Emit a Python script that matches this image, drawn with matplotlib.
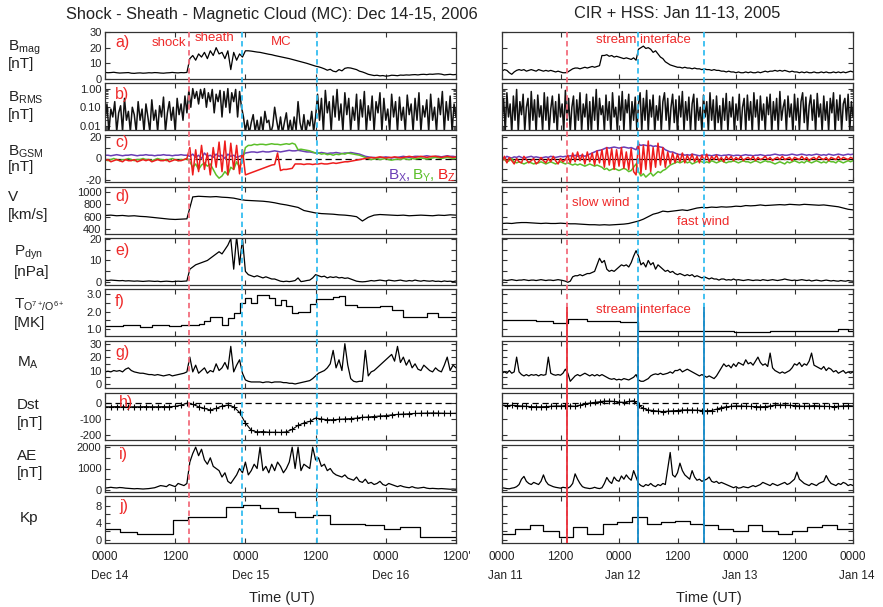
import numpy as np
import matplotlib
matplotlib.use('Agg')
import matplotlib.pyplot as plt
from matplotlib.ticker import LogLocator, NullFormatter

plt.rcParams['font.family'] = ['Liberation Sans', 'DejaVu Sans']
plt.rcParams['mathtext.fontset'] = 'custom'
plt.rcParams['mathtext.rm'] = 'Liberation Sans'
plt.rcParams['mathtext.it'] = 'Liberation Sans:italic'
plt.rcParams['mathtext.bf'] = 'Liberation Sans:bold'

# ---------------- data: left = Dec 14-16 2006 (hours from Dec 14 0000), right = Jan 11-13 2005 ----------------
# 30 min samples
bmag_L = [4.2,4.0,4.1,4.3,4.0,3.8,3.9,4.0,4.1,3.7,3.6,3.8,3.9,3.7,3.8,4.0,3.9,4.1,4.0,3.8,3.7,3.9,4.0,4.2,4.0,3.9,4.1,4.0,4.2,
          13,15,12,16,14,17,13,18,15,20,16,17,13,18,6,17,12,16,14,
          18,18,17.8,17.5,17.2,17,16.6,16.2,15.8,15.5,15,14.6,14.2,13.8,13.4,13,12.5,12,11.5,11,10.5,10,9.4,8.8,8.2,
          7.8,7.2,6.5,5.6,6.2,5.0,4.6,6.0,5.2,6.8,7.2,7.0,6.5,6.0,5.0,4.5,3.8,3.0,2.6,2.2,2.4,2.0,2.2,1.8,2.0,
          2.4,2.3,2.1,2.5,2.4,2.6,2.5,2.7,2.8,2.6,2.9,3.0,2.8,3.1,3.0,3.2,3.3,3.1,2.6,2.8,3.0,2.7,2.9]
bmag_R = [5,6,5.5,4,3,4.5,5.5,6,5.5,6,5,5.5,6,5.5,5,6,5.5,5,5.5,5,5.5,5,4.5,5,4.5,4,4,
          4.5,5.5,6.5,7,7,6.5,7,7.5,7,7.5,8,7.5,8,8.5,15,
          15,15.5,14.5,15,14,14.5,14,13.5,13,13.5,13,12.5,13.5,12,
          19,20,21,19.5,20,19,17,18,16,14,13,11,10,9,8.5,8,
          7.5,7.5,7,7.5,7,7,6.5,7,6.5,6.5,6,6.5,6,6,5.5,6,5.5,5.5,5,5,4.5,5,4.5,4.5,4,4.5,4,4,4.5,4,
          4.5,4,4,4.5,4,4.5,5,4.5,5,5,5.5,5,5.5,5,5.5,5,4.5,5,4.5,4.5,4,4.5,4,4.5,4,4,4.5,4,4,4.5,
          4,4.5,4,4,4.5,4,4.5,4,4.5,4,4.5,5,4.5]

# 20 min samples
brms_L = [0.02,0.15,0.005,0.08,0.03,0.2,0.005,0.05,0.12,0.005,0.3,0.02,0.06,0.005,0.1,0.04,0.005,0.2,0.02,0.08,
          0.005,0.15,0.03,0.005,0.25,0.02,0.07,0.005,0.12,0.03,0.35,0.005,0.05,0.2,0.02,0.1,0.005,0.3,0.04,0.15,
          0.02,0.4,0.05,
          0.8,0.1,1.0,0.3,0.7,0.15,0.9,0.3,1.0,0.1,0.6,0.2,0.9,0.05,0.5,0.2,0.8,0.03,0.7,0.1,1.0,0.05,0.6,0.2,0.9,0.03,0.7,0.1,
          0.03,0.005,0.02,0.004,0.015,0.04,0.005,0.02,0.004,0.03,0.005,0.06,0.015,0.02,0.004,0.01,0.1,0.02,0.005,0.03,
          0.004,0.015,0.05,0.005,0.02,0.004,0.03,0.006,0.2,0.015,0.005,0.04,0.004,0.02,0.01,0.06,0.005,0.03,
          0.5,0.02,0.3,0.005,0.8,0.05,0.2,0.005,0.4,0.03,0.9,0.02,0.15,0.005,0.6,0.04,0.3,0.005,0.1,0.02,
          0.5,0.005,0.25,0.03,0.7,0.005,0.12,0.02,0.4,0.005,0.2,0.05,0.6,0.005,0.3,0.02,0.08,0.005,0.5,0.03,
          0.2,0.005,0.35,0.02,0.1,0.005,0.45,0.04,0.15,0.005,0.3,0.02,0.6,0.005,0.12,0.03,0.25,0.005,0.5,0.02,
          0.1,0.005,0.3,0.04,0.7,0.005,0.2,0.02,0.4,0.005,0.15,0.03]
brms_R = [0.02,0.3,0.005,0.6,0.03,0.15,0.004,0.4,0.02,0.9, 0.005,0.2,0.04,0.5,0.005,0.1,0.3,0.005,0.7,0.02,
          0.25,0.004,0.45,0.03,0.12,0.005,0.6,0.02,0.35,0.005, 0.08,0.4,0.015,0.2,0.004,0.5,0.03,0.15,0.005,0.8,
          0.02,0.3,0.005,0.1,0.4,0.004,0.25,0.02,0.6,0.005, 0.15,0.03,0.5,0.005,0.2,0.004,0.35,0.02,0.9,0.005,
          0.3,0.04,0.12,0.005,0.45,0.02,0.2,0.004,0.6,0.03, 0.1,0.005,0.4,0.02,0.7,0.005,0.25,0.05,0.5,0.004,
          0.2,0.02,0.35,0.005,0.15,0.6,0.005,0.3,0.02,0.8, 0.005,0.25,0.03,0.45,0.004,0.12,0.02,0.4,0.005,0.2,
          0.6,0.02,0.3,0.005,0.1,0.5,0.015,0.25,0.004,0.4, 0.03,0.7,0.005,0.2,0.02,0.35,0.005,0.15,0.5,0.004,
          0.3,0.02,0.1,0.005,0.45,0.03,0.2,0.005,0.6,0.02, 0.25,0.004,0.4,0.015,0.12,0.005,0.3,0.02,0.55,0.005,
          0.2,0.03,0.35,0.004,0.15,0.02,0.5,0.005,0.1,0.3, 0.005,0.45,0.02,0.2,0.004,0.6,0.03,0.25,0.005,0.4,
          0.02,0.15,0.005,0.35,0.04,0.5,0.004,0.2,0.02,0.3, 0.005,0.7,0.02,0.1,0.25,0.005,0.4,0.03,0.15,0.004,
          0.5,0.02,0.3,0.005,0.2,0.6,0.015,0.35,0.005,0.12, 0.45,0.02,0.25,0.004,0.55,0.03,0.15,0.005,0.4,0.02,
          0.2,0.005,0.3,0.05,0.6,0.004,0.25,0.02,0.45,0.005, 0.15,0.3,0.02,0.5,0.005,0.2,0.03]

# B GSM components, 30 min
bx_L = [3,3,2.5,3,3.5,3,2.5,3,3,3.5,3,2.5,3,3,3.5,3,3,2.5,3,3,3.5,3,3,2.5,3,3,3.5,3,3,
        2,4,1,3,0,5,2,3,1,4,2,3,0,4,2,3,1,2,3,
        5,5.5,6,6,5.5,6,6.5,6,6,6.5,7,6.5,6,6.5,7,7.5,7,7,7.5,7,6.5,6,6,5.5,5,
        5,5.5,5,4.5,5,5,5.5,5,4.5,5,5,5.5,5,4.5,4,3,2,1.5,1,1,0.5,1,1,1.5,1,0.5,1,1,1.5,2,
        1.5,1,1.5,2,2,1.5,2,2.5,2,1.5,2,2,1.5,2,2.5,2,2,1.5]
by_L = [-1,-2,-1,0,-1,-2,-1,-1,0,-1,-2,-1,-1,0,-1,-1,-2,-1,0,-1,-1,-2,-1,0,-1,-2,-1,-1,0,
        -3,-8,-5,-10,-6,-4,-7,-5,-10,-15,-18,-16,-12,-15,-8,-10,-3,-8,-2,
        10,12,12,13,12.5,13,13,12.5,13,13.5,13,13,12.5,13,13.5,13,14,13,8,8.5,8,7.5,7,6,5,
        5,4,4.5,3.5,4,3,4,3.5,4.5,4,5,4.5,4,3.5,3,2,1,0,-1,-0.5,0,-1,-0.5,0,-1,-1.5,-1,-0.5,-1,0,
        -0.5,-1,0,-0.5,0,0.5,0,-0.5,0,0.5,1,0.5,0,0.5,1,0.5,0,0.5]
bz_L = [-2,-1,-3,-2,-1,-2,-3,-1,-2,-2,-1,-3,-2,-1,-2,-1,-3,-2,-1,-2,-2,-1,-3,-2,-1,-2,-2,-1,0,
        10,-15,8,-12,12,-10,5,-15,10,-8,15,-12,16,-15,14,-10,12,-14,8,
        -15,-14,-13,-12,-11,-10,-9,-8,-7,-6,-5.5,5,-11,-10,-10,-9.5,-9,-5,-5,-5,-5.5,-5,-5,-5.5,-5,
        -5,-4.5,-5,-5,-4.5,-4,-4.5,-4,-3.5,-3,-3,-2.5,-2,-1.5,-1,-0.5,0,0.5,1,0.5,1,1.5,1,0.5,1,1,1.5,1,0.5,1,
        1.5,2,1.5,1,1.5,2,1.5,1,1.5,2,2,1.5,1,1.5,2,1.5,1,1.5]
bx_R = [1,0,2,1,0.5,1.5,1,2,1,0.5,1,1.5,2,1,1.5,1,0.5,1,1.5,1,2,1.5,1,1.5,2,1.5,2,
        2,2.5,2,3,2,2.5,3,2,3,4,5,6,7,7.5,8,
        9,10,9.5,10,10.5,10,9.5,10,10.5,10,9.5,10,9,8,
        13,12,12.5,12,11.5,12,11,11.5,11,10.5,10,8,7,6,6,5,
        4,3.5,4,3,3.5,3,4,3.5,3,2.5,3,3.5,3,3,2.5,3,3.5,3,2.5,3,3,3.5,3,2.5,3,3,2.5,3,3.5,3,
        3,2.5,3,3,3.5,3,2.5,3,3,3.5,4,3.5,3,3.5,3,3,3.5,4,3.5,3,3.5,4,3.5,3,3.5,3,3.5,4,3.5,3,
        3.5,3,4,3.5,3,3.5,4,3.5,3,3.5,4,3.5,4]
by_R = [1,-1,-3,-2,0,-3,-4,-3,-4,-5,-4,-3,-4,-5,-4,-4,-3,-4,-5,-4,-3,-4,-5,-4,-3,-4,-5,
        -4,-5,-6,-5,-6,-5,-6,-7,-6,-5,-6,-7,-6,-7,-8,
        -10,-9,-11,-10,-9,-10,-11,-10,-9,-10,-12,-11,-8,-5,
        -12,-16,-14,-17,-15,-13,-16,-14,-12,-13,-11,-10,-8,-6,-5,-4,
        -3,-4,-3,-2,-4,-3,-5,-4,-3,-2,-3,-4,-3,-4,-2,-3,-4,-3,-2,-3,-4,-3,-3,-2,-3,-4,-3,-2,-3,-3,
        -4,-3,-2,-3,-4,-3,-2,-3,-3,-4,-5,-4,-3,-4,-5,-3,-4,-3,-2,-3,-4,-3,-4,-2,-3,-4,-3,-2,-3,-4,
        -3,-4,-2,-3,-3,-4,-2,-3,-4,-3,-2,-3,-2]
bz_R = [-3,2,-4,1,-2,-5,0,-3,-4,2,-1,-4,-2,0,-5,-3,1,-2,-4,0,-3,2,-2,-5,0,-3,-1,
        3,-4,5,-3,6,-2,4,-5,6,-3,5,-6,7,-4,8,
        -8,10,-6,9,-10,8,-7,10,-9,6,-10,9,-12,-15,
        15,-14,12,-10,16,-12,10,-8,14,-6,10,-8,6,-5,5,-4,
        4,-3,5,-4,3,-2,4,-3,2,-4,3,-2,4,-3,2,-1,3,-2,1,-3,2,-1,2,-2,1,-1,2,-2,0,1,
        -1,2,-2,1,-1,0,2,-1,1,-2,0,1,-1,2,-1,0,1,-2,1,0,-1,2,-1,1,-2,0,1,-1,2,0,
        -1,1,-2,1,0,-1,2,-1,1,0,-1,1,0]

# solar wind speed, hourly
v_L = [620,625,615,620,610,615,605,600,590,580,570,560,555,560,565,
       920,930,925,920,925,915,910,900,880,
       865,860,855,850,840,825,805,790,770,750,
       700,680,660,650,645,640,630,625,615,600,
       530,590,625,635,630,625,620,625,615,620,625,620,615,625,620,630,625]
v_R = [490,495,490,500,505,505,500,495,490,495,490,490,495,490,485,485,480,475,470,470,
       465,470,465,470,475,480,490,510,530,560,600,640,660,690,680,690,700,710,700,720,
       740,750,745,755,750,760,755,760,770,765,780,775,780,790,780,785,790,795,790,800,
       795,790,800,795,790,785,790,780,770,760,740,720,710]

# dynamic pressure, 30 min
pdyn_L = [1,0.8,1,0.9,0.8,0.7,0.8,0.6,0.7,0.6,0.5,0.6,0.5,0.4,0.5,0.6,0.5,0.4,0.5,0.3,0.4,0.5,0.4,0.3,0.4,0.5,0.4,0.5,0.6,
          6,7,8,8.5,9,9.5,10,11,12,13,14,13,15,17,20,6,21,8,20,
          5,3.5,3,2.5,3,2.5,2,2.5,2,1.5,1.5,1,0.5,0.3,0.5,0.3,0.5,0.8,2,0.3,0.5,0.8,1,2,3.5,
          3,2.5,2.8,2,2.5,2.2,2.5,2,2.2,1.8,2,1.5,1,0.5,0.3,0.2,0.3,0.5,0.8,0.6,0.8,1,0.8,0.6,1,
          0.8,0.6,0.8,1,0.7,0.5,0.8,0.6,1,0.7,0.5,0.8,0.6,0.5,0.7,0.4,0.5,0.3,0.6,0.4,0.5,0.3,0.6]
pdyn_R = [1,1,0.8,1,1.2,1,0.8,1,1,1.2,1,0.8,1,1,0.8,1,1.2,1,0.8,1,1,0.8,1,1.2,1,0.8,0.5,
          0,0.5,2.5,3,3,3.5,3,3.5,4,4,4.5,5,8,11,9,
          10,6,5,5.5,5,6,7,8,7.5,8,7,9,12,14.5,
          12,8,9,7,10,8,9,6,8,7,6,5,5.5,4.5,5,4,
          3.5,4,3.5,3,3.5,3,3.5,2.5,3,2.5,2,2.5,2,1.5,2,1.5,1.5,1,1.5,1.5,
          1,1.2,1,1.5,1,1.2,1,0.8,1,1.2,1,0.8,1,1,0.8,1.2,1,0.8,1,1.2,
          1,0.8,1,1.2,1.5,1.2,1,0.8,1,0.8,1,1.2,1,0.8,1,0.6,0.8,1,0.8,0.6,
          0.8,1,0.8,0.6,0.8,0.6,0.5,0.8,0.6,0.5,0.8,0.6,0.5]

# O7+/O6+ freeze-in temperature (steps)
tox_L_t = list(range(61))
tox_L = [1.15,1.15,1.2,1.25,1.25,1.25,1.12,1.12,1.25,1.25,1.25,1.19,1.19,1.25,1.25,1.25,1.3,1.44,1.72,1.72,
         1.25,1.62,1.9,2.49,2.77,2.49,2.94,2.94,2.8,2.38,2.67,2.33,1.94,2.0,2.0,2.42,2.71,2.71,2.71,2.83,
         2.9,2.38,2.38,2.29,2.29,2.29,2.29,2.33,2.33,2.1,2.1,1.72,1.72,1.72,1.68,1.95,1.95,1.72,1.72,1.72,1.72]
tox_R_t = [0, 7, 10.5, 13.5, 17.4, 24.2, 27.9, 36, 41.5, 47.5, 55, 62, 69, 71, 72]
tox_R = [1.53, 1.44, 1.34, 1.6, 1.48, 1.39, 0.9, 0.86, 0.9, 0.82, 0.9, 0.88, 0.98, 0.9, 0.9]

# Alfven Mach number, 30 min
ma_L = [9,9.5,9,10,9.5,10,9,11,12,10,9,8.5,8,8,7.5,7,7,6.5,7,6.5,6,6.5,7,6,6.5,7,7.5,8,9,
        20,9,14,8,10,12,8,10,9,15,10,12,16,11,28,9,14,18,8,
        3,2,1.5,1.5,1.5,1.5,1,1.5,1.5,1,1.5,1.5,1.5,1,1,0.5,0.5,0,0.5,1,1.5,2,2.5,4,6,
        8,9,10,12,15,25,12,18,10,30,14,4,2,1.5,2,2,25,6,9,10,12,14,16,18,20,22,17,28,16,20,
        14,18,12,15,11,10,14,12,10,9,12,10,9,14,20,10,14,12]
ma_R = [8,9,8,10,8,9,20,9,7,6,7,6,7,6.5,7,6,7,6.5,7,20,8,7,6.5,7,6.5,8,11,
        8,2,4,6,7,6,7,8,7,6,7,6,7,6,7,
        6,5,4,3.5,4,3,3.5,3,4,3.5,3,4,5,7,
        3,2,2,3,4,6,7,7.5,7,8,7,7.5,8,9,8,10,
        10,11,9,10,11,10,9,8,7,6,7,6,5,6,5,4,6,9,12,15,13,14,12,15,13,16,15,14,18,15,
        16,14,17,20,16,14,15,13,23,12,10,9,8,9,8,9,10,12,15,14,16,13,15,14,17,23,14,13,12,11,
        13,10,12,11,9,10,8,9,10,8,9,8,9]

# Dst, hourly
dst_L = [-25,-25,-24,-25,-26,-25,-25,-24,-25,-25,-24,-25,-22,-15,
         -3,-10,-25,-35,-45,-35,-20,-15,-25,-60,-125,-170,-180,-178,-182,-182,-183,-180,-165,-140,
         -125,-115,-95,-100,-105,-105,-102,-100,-98,-95,-90,-88,-85,-82,-80,-75,-72,-70,-68,-66,
         -65,-64,-63,-64,-65,-66,-65]
dst_R = [-15,-18,-16,-18,-20,-22,-24,-25,-25,-24,-22,-20,-20,-18,-20,-22,-15,-8,-2,2,
         6,10,10,8,4,2,8,12,-15,-35,-45,-48,-52,-55,-52,-50,-48,-45,-44,-45,
         -46,-48,-50,-48,-40,-30,-25,-22,-20,-20,-22,-23,-24,-25,-24,-20,-15,-14,-15,-16,
         -18,-20,-22,-20,-18,-20,-22,-23,-24,-22,-20,-18,-20]

# AE, 30 min
ae_L = [80,100,120,100,90,110,100,80,70,60,50,60,50,40,50,60,80,100,150,200,180,150,250,200,150,300,250,200,300,
        1300,1700,2000,1600,1900,1400,1200,1500,1100,1000,900,600,800,400,300,500,700,1000,800,
        1300,700,900,1200,1000,2000,900,1100,800,1200,900,1300,1100,800,1000,1300,2000,1000,2000,900,1200,1100,1000,2000,1400,
        1500,1100,1200,900,1000,800,700,650,600,700,550,500,450,600,400,350,500,300,350,250,
        300,400,250,200,300,250,200,150,200,150,120,100,150,100,80,100,120,80,60,70,
        60,50,60,50,40,30,40,30]
ae_R = [100,80,60,50,80,100,150,250,500,630,400,300,250,350,300,250,400,700,400,250,200,150,120,100,80,120,100,
        80,150,300,750,500,300,150,100,80,60,80,120,80,60,100,
        300,580,400,300,600,450,400,650,500,700,550,450,900,600,
        300,200,150,250,200,300,200,150,250,200,300,250,1000,1750,700,600,
        800,1250,900,700,600,500,900,600,450,500,400,450,500,600,400,350,400,300,350,300,
        250,200,150,100,150,80,100,150,120,100,150,200,150,200,250,350,300,250,200,300,
        250,200,250,300,350,250,300,400,500,830,500,400,300,250,200,300,250,200,300,350,
        400,670,450,300,250,200,300,250,350,300,200,250,200]

# Kp (steps)
kp_L_t = [0, 2.6, 5.5, 11.7, 14.2, 20.6, 23.6, 26.5, 29.6, 32.5, 35.6, 38.5, 44.5, 47.7, 50.5, 53.8, 60]
kp_L = [2.6, 1.8, 1.4, 4.7, 5.3, 7.7, 8.3, 7.5, 6.6, 5.5, 5.8, 3.8, 3.4, 2.6, 3.0, 0.8, 0.8]
kp_R_t = [0, 2.7, 5.7, 8.5, 11.6, 14.6, 17.4, 20.8, 23.5, 26.6, 29.7, 32.7, 35.5, 38.6, 41.3, 44.4,
          47.4, 50.5, 53.3, 56.7, 59.4, 62.5, 65.6, 68.7, 72]
kp_R = [1.4, 2.6, 3.4, 2.0, 0.8, 3.1, 1.4, 3.8, 4.1, 5.3, 3.8, 4.1, 4.5, 3.8, 3.6, 2.6,
        2.2, 3.4, 2.2, 1.4, 2.0, 3.1, 3.4, 2.6, 2.6]

# event boundaries (hours)
shock_L, sheath_end_L, mc_end_L = 14.35, 23.5, 36.3
si_start_R, si_R, fast_R = 13.4, 27.9, 41.5

# ---------------- layout ----------------
FW, FH = 883.0, 607.0
fig = plt.figure(figsize=(8.83, 6.07), dpi=100)
TOPS = [32, 83, 135, 187, 238, 289, 341, 393, 445, 496]
PH = 47
COLS = {'L': (105, 456, 60), 'R': (502, 853, 72)}
EDGE = '#333333'

def px_axes(x0, x1, top):
    return fig.add_axes([x0 / FW, 1 - (top + PH) / FH, (x1 - x0) / FW, PH / FH])

# (ylim, ticks, ticklabels, log)
ROWS = [
    ((0, 30), [0, 10, 20, 30], ['0', '10', '20', '30'], False),
    ((0.006, 2.0), [0.01, 0.1, 1.0], ['0.01', '0.10', '1.00'], True),
    ((-21.5, 21.5), [-20, -10, 0, 10, 20], ['-20', '', '0', '', '20'], False),
    ((320, 1080), [400, 600, 800, 1000], ['400', '600', '800', '1000'], False),
    ((-1.25, 20.3), [0, 5, 10, 15, 20], ['0', '', '10', '', '20'], False),
    ((0.6, 3.3), [1.0, 1.5, 2.0, 2.5, 3.0], ['1.0', '', '2.0', '', '3.0'], False),
    ((-3, 32), [0, 5, 10, 15, 20, 25, 30], ['0', '', '10', '', '20', '', '30'], False),
    ((-230, 60), [-200, -100, 0], ['-200', '-100', '0'], False),
    ((-100, 2100), [0, 500, 1000, 1500, 2000], ['0', '', '1000', '', '2000'], False),
    ((-0.7, 10.3), [0, 2, 4, 6, 8], ['0', '', '4', '', '8'], False),
]

axes = {}
for side, (x0, x1, xmax) in COLS.items():
    axes[side] = []
    for i, top in enumerate(TOPS):
        ax = px_axes(x0, x1, top)
        ylim, yt, ytl, log = ROWS[i]
        ax.set_xlim(0, xmax)
        if log:
            ax.set_yscale('log')
        ax.set_ylim(*ylim)
        ax.set_xticks(np.arange(0, xmax + 1, 12))
        ax.set_xticklabels([])
        ax.set_yticks(yt)
        ax.set_yticklabels(ytl if side == 'L' else [])
        if log:
            ax.yaxis.set_minor_locator(LogLocator(base=10, subs=np.arange(2, 10)))
            ax.yaxis.set_minor_formatter(NullFormatter())
        ax.tick_params(which='both', direction='in', top=True, right=True, colors=EDGE,
                       labelsize=8, pad=2.5, labelcolor='#222222')
        ax.tick_params(which='major', length=3.5, width=0.8)
        ax.tick_params(which='minor', length=2, width=0.6)
        for s in ax.spines.values():
            s.set_color(EDGE)
            s.set_linewidth(0.9)
        axes[side].append(ax)

def t30(v):
    return np.arange(len(v)) * 0.5

def t20(v):
    return np.arange(len(v)) / 3.0

def t60(v):
    return np.arange(len(v)) * 1.0

LW = 0.9
for side in ['L', 'R']:
    A = axes[side]
    d = dict(L=dict(bmag=bmag_L, brms=brms_L, bx=bx_L, by=by_L, bz=bz_L, v=v_L, pdyn=pdyn_L,
                    tt=tox_L_t, tv=tox_L, ma=ma_L, dst=dst_L, ae=ae_L, kt=kp_L_t, kv=kp_L),
             R=dict(bmag=bmag_R, brms=brms_R, bx=bx_R, by=by_R, bz=bz_R, v=v_R, pdyn=pdyn_R,
                    tt=tox_R_t, tv=tox_R, ma=ma_R, dst=dst_R, ae=ae_R, kt=kp_R_t, kv=kp_R))[side]
    A[0].plot(t30(d['bmag']), d['bmag'], color='k', lw=LW)
    A[1].plot(t20(d['brms']), d['brms'], color='#111111', lw=1.1)
    A[2].axhline(0, color='k', lw=0.9, ls=(0, (5, 3)) if side == 'L' else '-')
    A[2].plot(t30(d['bx']), d['bx'], color='#6a3db5', lw=1.1)
    A[2].plot(t30(d['by']), d['by'], color='#5cbf2a', lw=1.1)
    A[2].plot(t30(d['bz']), d['bz'], color='#ee1c1c', lw=1.1)
    A[3].plot(t60(d['v']), d['v'], color='k', lw=LW)
    A[4].plot(t30(d['pdyn']), d['pdyn'], color='k', lw=LW)
    A[5].step(d['tt'], d['tv'], where='post', color='k', lw=LW)
    A[6].plot(t30(d['ma']), d['ma'], color='k', lw=LW)
    A[7].axhline(0, color='k', lw=0.9, ls=(0, (5, 3)))
    A[7].plot(t60(d['dst']), d['dst'], color='k', lw=0.8, marker='+', ms=5, mew=0.8)
    A[8].plot(t30(d['ae']), d['ae'], color='k', lw=LW)
    A[9].step(d['kt'], d['kv'], where='post', color='k', lw=LW)

# bottom tick labels and dates
bl = axes['L'][9]
bl.set_xticklabels(['0000', '1200', '0000', '1200', '0000', "1200'"])
br = axes['R'][9]
br.set_xticklabels(['0000', '1200', '0000', '1200', '0000', '1200', '0000'])
for ax in (bl, br):
    ax.tick_params(axis='x', labelsize=8.5, pad=6)
for ax, days in ((bl, [(0, 'Dec 14'), (24, 'Dec 15'), (48, 'Dec 16')]),
                 (br, [(0, 'Jan 11'), (24, 'Jan 12'), (48, 'Jan 13'), (72, 'Jan 14')])):
    for t, s in days:
        ax.annotate(s, xy=(t, 0), xycoords=ax.get_xaxis_transform(), xytext=(-10, -19.5),
                    textcoords='offset points', ha='left', va='top', fontsize=8.5, color='#222222')

# event lines (overlay across whole column)
RED_D, BLUE_D = '#f26d7d', '#35bdf0'
for side, lines in (('L', [(shock_L, RED_D), (sheath_end_L, BLUE_D), (mc_end_L, BLUE_D)]),
                    ('R', [(si_start_R, RED_D), (si_R, BLUE_D), (fast_R, BLUE_D)])):
    x0, x1, xmax = COLS[side]
    ov = fig.add_axes([x0 / FW, 1 - 543 / FH, (x1 - x0) / FW, (543 - 32) / FH])
    ov.set_xlim(0, xmax)
    ov.set_ylim(0, 1)
    ov.set_axis_off()
    ov.patch.set_alpha(0)
    for t, c in lines:
        ov.axvline(t, color=c, lw=1.3, ls=(0, (3, 2)))
    if side == 'R':
        ov.axvline(si_start_R, ymax=(543 - 308) / (543 - 32.0), color='#e8323c', lw=1.3)
        ov.axvline(si_R, ymax=(543 - 308) / (543 - 32.0), color='#1a8ac6', lw=1.3)
        ov.axvline(fast_R, ymax=(543 - 308) / (543 - 32.0), color='#1a8ac6', lw=1.3)

def ftext(x, y, s, **kw):
    return fig.text(x / FW, 1 - y / FH, s, **kw)

# titles
ftext(272, 14, 'Shock - Sheath - Magnetic Cloud (MC): Dec 14-15, 2006', ha='center', va='center',
      fontsize=11.8, color='#222222')
ftext(677, 14, 'CIR + HSS: Jan 11-13, 2005', ha='center', va='center', fontsize=11.8, color='#222222')
ftext(282, 598, 'Time (UT)', ha='center', va='center', fontsize=10.5, color='#222222')
ftext(709, 598, 'Time (UT)', ha='center', va='center', fontsize=10.5, color='#222222')

# y labels
ylabels = [
    (8, 48, r'B$_{\mathrm{mag}}$'), (8, 64, '[nT]'),
    (8, 98, r'B$_{\mathrm{RMS}}$'), (8, 115, '[nT]'),
    (8, 152, r'B$_{\mathrm{GSM}}$'), (8, 167, '[nT]'),
    (8, 197, 'V'), (8, 215, '[km/s]'),
    (14, 253, r'P$_{\mathrm{dyn}}$'), (14, 272, '[nPa]'),
    (14, 305, r'T$_{\mathrm{O}^{7+}\!/\mathrm{O}^{6+}}$'), (14, 323, '[MK]'),
    (17, 363, r'M$_{\mathrm{A}}$'),
    (17, 405, 'Dst'), (17, 423, '[nT]'),
    (17, 456, 'AE'), (17, 473, '[nT]'),
    (20, 518, 'Kp'),
]
for x, y, s in ylabels:
    ftext(x, y, s, ha='left', va='center', fontsize=11, color='#222222')

# panel letters
RED = '#ee2a2a'
letter_y = [43, 95, 143, 197, 250, 302, 353, 402, 454, 507]
for i, (lab, y) in enumerate(zip('abcdefghij', letter_y)):
    ftext(115 if i < 7 else 119, y, lab + ')', ha='left', va='center', fontsize=11.5, color=RED)

# annotations
ftext(169, 43, 'shock', ha='center', va='center', fontsize=9.5, color=RED)
ftext(215, 38, 'sheath', ha='center', va='center', fontsize=9.5, color=RED)
ftext(281, 42, 'MC', ha='center', va='center', fontsize=9.5, color=RED)
ftext(643, 40, 'stream interface', ha='center', va='center', fontsize=9.5, color=RED)
ftext(601, 203, 'slow wind', ha='center', va='center', fontsize=9.5, color=RED)
ftext(703, 222, 'fast wind', ha='center', va='center', fontsize=9.5, color=RED)
ftext(643, 310, 'stream interface', ha='center', va='center', fontsize=9.5, color=RED)

ftext(388, 180, r'B$_{\mathrm{X}}$,', ha='left', va='baseline', fontsize=11, color='#6a3db5')
ftext(412, 180, r'B$_{\mathrm{Y}}$,', ha='left', va='baseline', fontsize=11, color='#5cbf2a')
ftext(437, 180, r'B$_{\mathrm{Z}}$', ha='left', va='baseline', fontsize=11, color='#ee1c1c')

fig.savefig('out.png', dpi=100)
